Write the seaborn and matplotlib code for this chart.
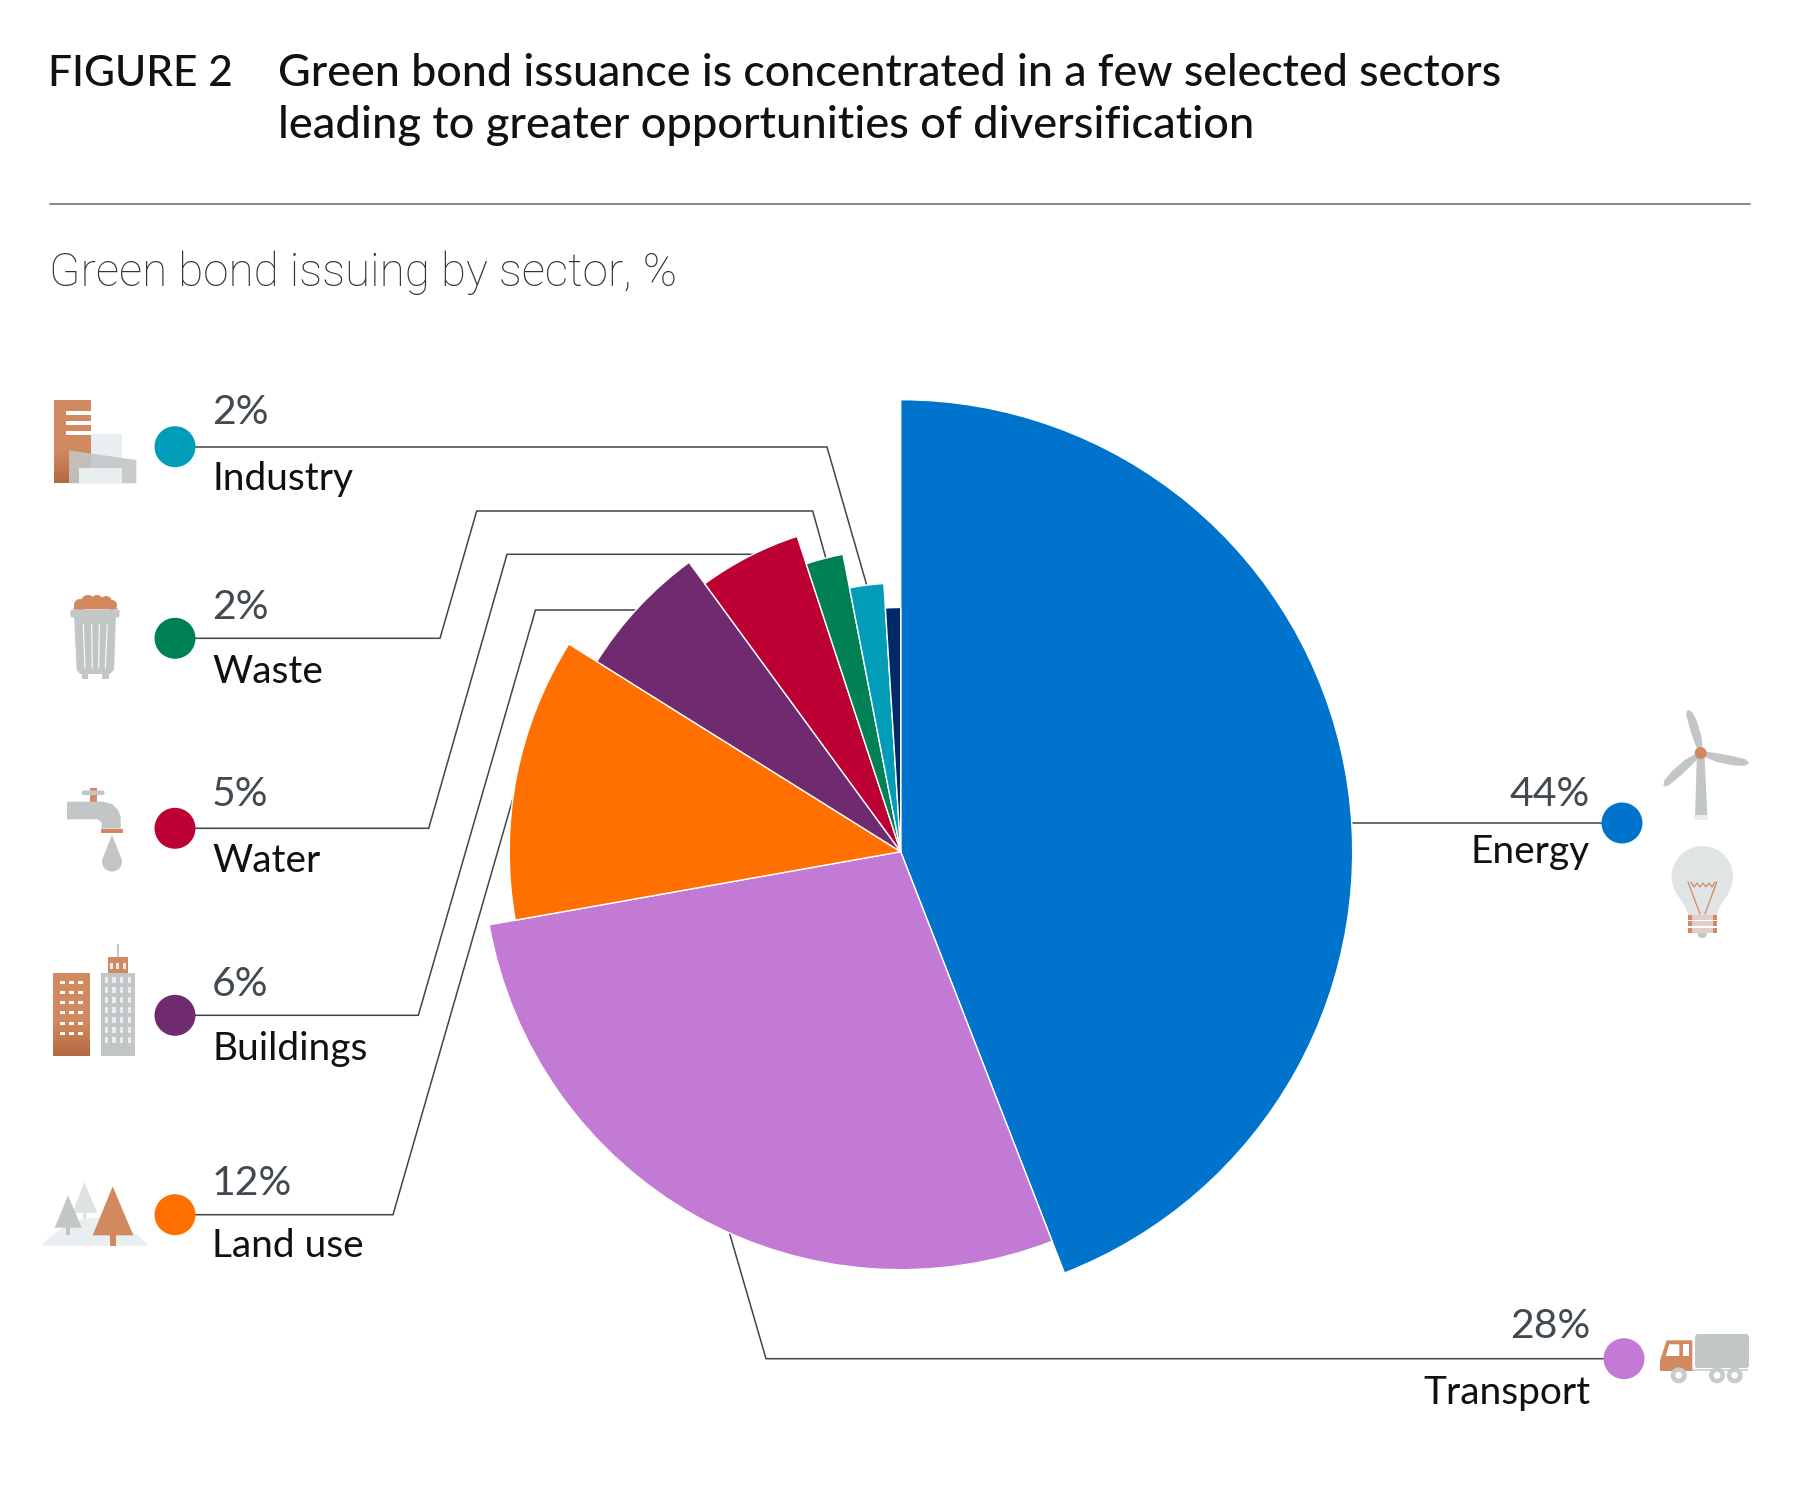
import numpy as np
import pandas as pd
import matplotlib
matplotlib.use('Agg')
import matplotlib.pyplot as plt
from matplotlib.patches import Polygon, Circle, Rectangle, Ellipse, FancyBboxPatch
from matplotlib.colors import to_rgb
import seaborn as sns

# chart values, clockwise from 12 o'clock (slice angles, labels are rounded)
sectors = ['Energy', 'Transport', 'Land use', 'Buildings', 'Water', 'Waste', 'Industry', 'Other']
shares = [44.1, 28.1, 11.7, 6.05, 5.0, 2.0, 2.05, 1.0]
slice_radius = [452, 418, 391.5, 358.5, 332, 303, 268.7, 244.2]
slice_colors = ['#0074cc', '#c27ad4', '#ff7000', '#702a6f', '#bd0033', '#008055', '#009cb8', '#00296b']

# legend rows (the navy slice has no label)
dot_x = [175, 175, 175, 175, 175, 1622, 1624]
dot_y = [445.7, 637.3, 827.3, 1014.3, 1213.7, 822, 1357.7]
dot_sector = ['Industry', 'Waste', 'Water', 'Buildings', 'Land use', 'Energy', 'Transport']

ORANGE = '#d2895f'
ORANGE_DK = '#b5683f'
GREY = '#c3c6c6'
PALE = '#e9eef0'
TEXT_GREY = '#414a50'
LINE = '#444444'

sns.set_theme(style='white')
plt.rcParams['font.family'] = ['Lato', 'DejaVu Sans']

fig = plt.figure(figsize=(18, 15), dpi=100, facecolor='white')

# overlay in pixel coords for texts, leader lines and icons
ov = fig.add_axes([0, 0, 1, 1], zorder=0)


def poly(pts, color, **kw):
    ov.add_patch(Polygon(pts, closed=True, facecolor=color, edgecolor='none', **kw))


def rect(x0, y0, x1, y1, color, **kw):
    ov.add_patch(Rectangle((x0, y0), x1 - x0, y1 - y0, facecolor=color, edgecolor='none', **kw))


def circ(x, y, r, color):
    ov.add_patch(Circle((x, y), r, facecolor=color, edgecolor='none'))


def grad_rect(x0, y0, x1, y1, top=ORANGE, bottom=ORANGE_DK):
    steps = np.concatenate([np.zeros(60), np.linspace(0, 1, 40)])
    c0, c1 = np.array(to_rgb(top)), np.array(to_rgb(bottom))
    img = np.array([c0 + (c1 - c0) * s for s in steps]).reshape(-1, 1, 3)
    ov.imshow(img, extent=(x0, x1, y1, y0), aspect='auto', interpolation='bilinear', zorder=1)


def icon_industry():
    grad_rect(54, 400, 90.7, 482.3)
    for y in [409.5, 420, 430]:
        rect(66.3, y, 90.7, y + 4, 'white', zorder=2)
    rect(90.7, 432.7, 121.7, 482.3, PALE, zorder=2)
    poly([(69, 449.3), (136.3, 459), (136.3, 482.3), (69, 482.3)], GREY, alpha=0.9, zorder=3)
    rect(79, 467.3, 121.7, 482.3, PALE, zorder=4)


def icon_trash():
    for x, y, r in [(80, 604, 6), (88, 601, 7), (97, 600, 6), (106, 601, 6), (112, 604, 5)]:
        circ(x, y, r, ORANGE)
    poly([(72.7, 608.3), (78, 601), (112, 601), (118, 608.3)], ORANGE)
    rect(82, 670, 88.3, 677.7, GREY)
    rect(101.7, 670, 109, 677.7, GREY)
    poly([(74, 615), (116, 615), (114, 669), (110, 673), (80, 673), (76.7, 669)], GREY)
    ov.add_patch(FancyBboxPatch((71, 609), 48, 7, boxstyle='round,pad=0.5,rounding_size=2',
                                facecolor=GREY, edgecolor='none'))
    for xa, xb in [(83.3, 85), (91.7, 92.3), (99.3, 98.7), (107.3, 105.3)]:
        ov.plot([xa, xb], [623, 667], color='white', lw=0.8, zorder=3)


def icon_faucet():
    rect(90, 786.7, 96.7, 801, ORANGE)
    ov.add_patch(FancyBboxPatch((82, 790), 22, 3.6, boxstyle='round,pad=0.5,rounding_size=2',
                                facecolor=GREY, edgecolor='none', zorder=3))
    poly([(67, 800.7), (103, 800.7), (112, 803), (118, 809), (120.7, 816), (120.7, 827.7),
          (101.7, 827.7), (101.7, 822), (98, 818.3), (67, 818.3)], GREY)
    rect(101, 827.7, 123, 832.3, ORANGE)
    circ(112, 860.5, 10, GREY)
    poly([(112, 834), (103.5, 855), (120.5, 855)], GREY)


def icon_buildings():
    grad_rect(53, 972.3, 89.7, 1054.7)
    for x in [62.3, 71.3, 80.7]:
        for y in [981.3, 991.3, 1001.7, 1011.7, 1022, 1032]:
            rect(x - 2.5, y - 1.5, x + 2.5, y + 1.5, 'white', zorder=2)
    rect(101, 972.3, 134.7, 1054.7, GREY)
    for x in [106.3, 114, 121.7, 129.3]:
        for y in [979, 989, 999, 1009, 1019, 1029, 1039]:
            rect(x - 1.7, y - 3, x + 1.7, y + 3, PALE, zorder=2)
    rect(108, 955.7, 128, 972.3, ORANGE)
    for x in [111.7, 117.7, 124]:
        rect(x - 1.5, 962, x + 1.5, 968, PALE, zorder=2)
    rect(117.3, 942.7, 118.7, 955.7, GREY)


def icon_trees():
    poly([(41, 1244.7), (50, 1236), (62, 1227), (80, 1219), (95, 1216.7), (112, 1219),
          (130, 1228), (142, 1238), (149, 1244.7)], PALE)
    rect(82.6, 1210, 86, 1218, '#dfe3e3')
    poly([(84.3, 1181), (72.3, 1211.7), (97.3, 1211.7)], '#dfe3e3')
    rect(65.7, 1226, 70.3, 1234, GREY)
    poly([(68, 1194.3), (54.7, 1226.7), (81.7, 1226.7)], GREY)
    rect(110, 1234, 116.3, 1245, ORANGE)
    poly([(112.7, 1185.3), (92.7, 1234.3), (133.3, 1234.3)], ORANGE)


def icon_turbine():
    hub = np.array([1700.7, 752.0])
    for tip in [(1688, 709.3), (1748.7, 762), (1664, 784.7)]:
        v = np.array(tip) - hub
        n = np.array([-v[1], v[0]]) / np.hypot(*v)
        pts = [hub + v * t + n * w for t, w in [(0, 2), (0.35, 5.5), (0.7, 5.5), (0.92, 3.8), (1, 1),
                                                (1, -1), (0.92, -3), (0.6, -3.5), (0.3, -3), (0, -2)]]
        poly(pts, GREY)
    poly([(1697, 752), (1704.4, 752), (1707.3, 814.3), (1695, 814.3)], GREY)
    rect(1694, 814.3, 1708, 818.7, PALE)
    circ(hub[0], hub[1], 6, ORANGE)


def icon_bulb():
    bulb = '#e0e4e5'
    circ(1702.3, 875.7, 30.7, bulb)
    poly([(1676, 892), (1685, 905), (1688.3, 914), (1716.7, 914), (1720, 905), (1729, 892)], bulb)
    ov.plot([1688, 1700], [881, 913], color=ORANGE, lw=0.9, zorder=3)
    ov.plot([1716.7, 1705], [881, 913], color=ORANGE, lw=0.9, zorder=3)
    ov.plot([1691, 1694, 1697, 1700, 1703, 1706, 1709, 1712, 1715],
            [881, 886, 882, 886, 882, 886, 882, 886, 881], color=ORANGE, lw=0.9, zorder=3)
    for y in [914, 920, 927]:
        rect(1688.3, y, 1716.7, y + 4.6, '#e0cfc8', zorder=3)
        rect(1688.3, y, 1692, y + 4.6, ORANGE, zorder=3)
        rect(1713, y, 1716.7, y + 4.6, ORANGE, zorder=3)
    ov.add_patch(Ellipse((1702.3, 933.5), 9, 7, facecolor=GREY, edgecolor='none'))


def icon_truck():
    ov.add_patch(FancyBboxPatch((1696, 1334), 52, 32, boxstyle='round,pad=1,rounding_size=3',
                                facecolor=GREY, edgecolor='none'))
    rect(1692, 1367.5, 1748, 1370, '#d3d6d6')
    poly([(1660, 1370), (1660, 1359.3), (1666.7, 1339.3), (1692.3, 1339.3), (1692.3, 1370)], ORANGE)
    poly([(1665.7, 1355), (1669.3, 1343.3), (1679.3, 1343.3), (1679.3, 1355)], 'white', zorder=2)
    rect(1683.3, 1343.3, 1688.7, 1355, 'white', zorder=2)
    for x in [1678.7, 1717, 1734.7]:
        circ(x, 1374.3, 8, '#c8cbcc')
        ov.add_patch(Circle((x, 1374.3), 3.4, facecolor='white', edgecolor='none', zorder=3))


# leader lines run underneath the pie
leaders = [
    [(195, 446), (827, 446), (866.7, 584)],
    [(195, 637.3), (440, 637.3), (476.7, 510), (812.7, 510), (826, 557.7)],
    [(195, 827.3), (428.7, 827.3), (507, 553.3), (765, 553.3)],
    [(195, 1014.3), (418.3, 1014.3), (535.5, 609), (650, 609)],
    [(195, 1213.7), (393, 1213.7), (518, 780)],
    [(726, 1220), (766, 1357.7), (1606, 1357.7)],
    [(1340, 822), (1605, 822)],
]
for pts in leaders:
    xs, ys = zip(*pts)
    ov.plot(xs, ys, color=LINE, lw=1.1, solid_joinstyle='miter')

for fn in [icon_industry, icon_trash, icon_faucet, icon_buildings, icon_trees,
           icon_turbine, icon_bulb, icon_truck]:
    fn()

dots = pd.DataFrame({'x': dot_x, 'y': dot_y, 'sector': dot_sector})
sns.scatterplot(data=dots, x='x', y='y', hue='sector', hue_order=sectors[:-1],
                palette=dict(zip(sectors, slice_colors)), s=870, linewidth=0,
                legend=False, ax=ov, zorder=5)

ov.set_xlim(0, 1800)
ov.set_ylim(1499, -1)
ov.axis('off')

# header
ov.text(48, 85.5, 'FIGURE 2', fontsize=30.5, color='#111111', weight='medium', va='baseline')
ov.text(278, 85.5, 'Green bond issuance is concentrated in a few selected sectors', fontsize=32.2,
        color='#111111', weight='medium', va='baseline')
ov.text(278, 137.5, 'leading to greater opportunities of diversification', fontsize=32.6,
        color='#111111', weight='medium', va='baseline')
ov.plot([50, 1750], [202.5, 202.5], color='#666666', lw=1.1)
ov.text(49, 285, 'Green bond issuing by sector, %', fontsize=33, color='#2f363a', family='Roboto',
        weight='light', va='baseline')

# row labels
left_x = 212
left_rows = [
    ('2%', 423.2, 'Industry', 489),
    ('2%', 618.2, 'Waste', 682.4),
    ('5%', 804.8, 'Water', 870.7),
    ('6%', 994.5, 'Buildings', 1059),
    ('12%', 1193.8, 'Land use', 1256.4),
]
for pct, y_pct, name, y_name in left_rows:
    ov.text(left_x, y_pct, pct, fontsize=29.5, color=TEXT_GREY, va='baseline')
    ov.text(left_x, y_name, name, fontsize=28, color='#111111', va='baseline')

right_x = 1590
right_rows = [('44%', 804.8, 'Energy', 861.7), ('28%', 1337.2, 'Transport', 1403.4)]
for pct, y_pct, name, y_name in right_rows:
    ov.text(right_x, y_pct, pct, fontsize=29.5, color=TEXT_GREY, va='baseline', ha='right')
    ov.text(right_x, y_name, name, fontsize=28, color='#111111', va='baseline', ha='right')

# the pie itself: polar bars, radius differs per slice
R = 460
CX, CY = 900.7, 851.7
pie_ax = fig.add_axes([(CX - R) / 1800, (1500 - CY - R) / 1500, 2 * R / 1800, 2 * R / 1500],
                      projection='polar', zorder=1)
total = sum(shares)
widths = np.array(shares) / total * 2 * np.pi
starts = np.concatenate([[0], np.cumsum(widths)[:-1]])
pie_ax.bar(starts, slice_radius, width=widths, align='edge', color=slice_colors,
           edgecolor='white', linewidth=1)
pie_ax.set_theta_zero_location('N')
pie_ax.set_theta_direction(-1)
pie_ax.set_rlim(0, R)
pie_ax.axis('off')

fig.savefig('out.png', dpi=100)
